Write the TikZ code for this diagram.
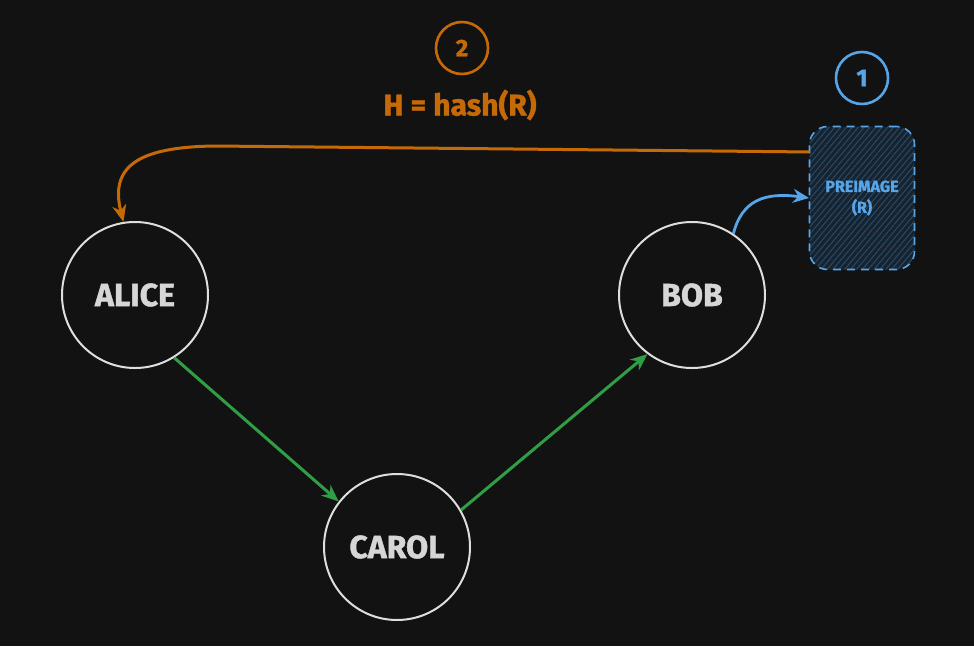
\documentclass[tikz,border=0pt]{standalone}
\usepackage{fontspec}
\setmainfont{Fira Sans}[BoldFeatures={FakeBold=1.3}]
\usetikzlibrary{arrows.meta,positioning,patterns.meta}
\definecolor{bgdark}{RGB}{18,18,18}
\definecolor{ringgrey}{RGB}{222,222,222}
\definecolor{txtgrey}{RGB}{214,214,214}
\definecolor{flowgreen}{RGB}{47,158,68}
\definecolor{hashorange}{RGB}{198,106,8}
\definecolor{preblue}{RGB}{86,165,232}
\definecolor{prefill}{RGB}{22,36,50}
\definecolor{prehatch}{RGB}{44,76,104}

\tikzset{
  party/.style={circle,draw=ringgrey,line width=2pt,minimum size=146pt,
    text=txtgrey,font=\fontsize{32}{32}\selectfont\bfseries},
  flow/.style={flowgreen,line width=3pt,-{Stealth[length=17pt,width=14pt]}},
  stepnum/.style={circle,draw,line width=2.6pt,minimum size=52pt,
    font=\fontsize{24}{24}\selectfont\bfseries},
}

\begin{document}
\begin{tikzpicture}[x=1pt,y=-1pt]
  \useasboundingbox[fill=bgdark] (0,0) rectangle (974,646);
  % parties
  \node[party] (alice) at (135,295) {ALICE};
  \node[party] (bob)   at (692,295) {BOB};
  \node[party] (carol) at (397,547) {CAROL};
  % secret box
  \node[draw=preblue,dashed,dash pattern=on 8pt off 6pt,line width=1.6pt,
        rounded corners=18pt,minimum width=105pt,minimum height=143pt,
        preaction={fill=prefill},
        pattern={Lines[angle=50,distance=4.5pt,line width=0.9pt]},pattern color=prehatch,
        text=preblue,align=center,font=\fontsize{16}{21}\selectfont\bfseries]
        (pre) at (862,198) {PREIMAGE\\(R)};
  \node[stepnum,preblue] (one) at (862,78) {1};
  \node[stepnum,hashorange] (two) at (462,48) {2};
  \node[hashorange,font=\fontsize{30}{30}\selectfont\bfseries] (hashlbl) at (460,105) {H = hash(R)};
  % arrows
  \draw[flow] (alice.-58) -- (carol.142);
  \draw[flow] (carol.30) -- (bob.-127);
  \draw[preblue,line width=2.8pt,-{Stealth[length=16pt,width=14pt]}]
    (bob.56) .. controls (742,200) and (765,192) .. (pre.west);
  \draw[hashorange,line width=3pt,-{Stealth[length=17pt,width=14pt]}]
    (pre.139) -- (215,146) .. controls (135,147) and (110,168) .. (alice.99);
\end{tikzpicture}
\end{document}
